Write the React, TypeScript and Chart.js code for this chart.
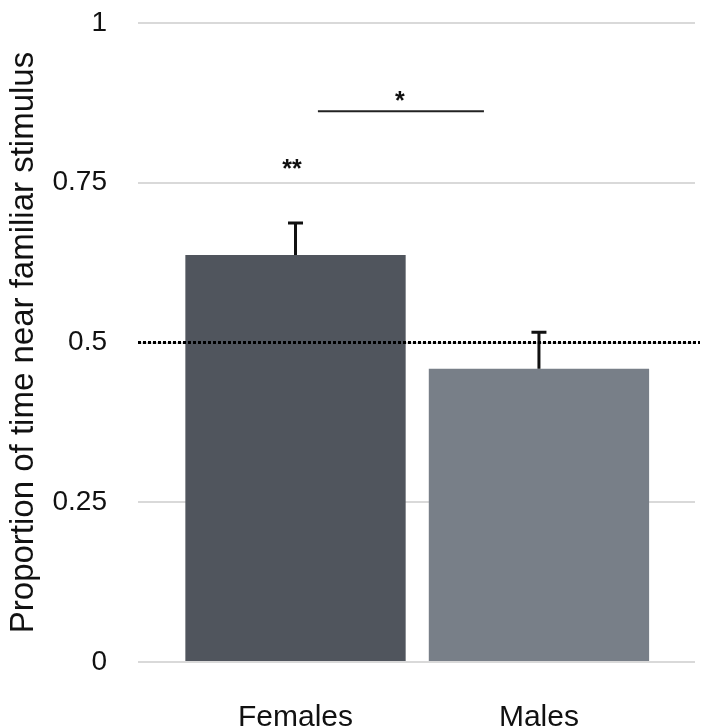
import { useEffect, useRef } from "react"
import { Chart, registerables } from "chart.js"

Chart.register(...registerables)

// Data
const categories = ["Females", "Males"]
const meanValues = [0.637, 0.459]
const upperErrors = [0.687, 0.516]
const barColors = ["#50555d", "#787f88"]
const yTickValues = [0, 0.25, 0.5, 0.75, 1]
const chanceLevel = 0.5

// significance marks, in data units (x = category index, y = proportion)
const sigLine = { x0: 0.092, x1: 0.774, y: 0.862 }
const sigMarks = [
  { text: "*", x: 0.429, y: 0.887 },
  { text: "**", x: -0.014, y: 0.781 },
]

const FONT = "'Liberation Sans', Arial, Helvetica, sans-serif"

const overlayPlugin = {
  id: "overlay",
  afterDatasetsDraw(chart: any) {
    const { ctx, chartArea } = chart
    const xs = chart.scales.x
    const ys = chart.scales.y

    ctx.save()
    // error bars (upper only)
    ctx.strokeStyle = "#111"
    ctx.lineWidth = 3
    upperErrors.forEach((u, i) => {
      const x = xs.getPixelForValue(i)
      const yTop = ys.getPixelForValue(u)
      const yBar = ys.getPixelForValue(meanValues[i])
      ctx.beginPath()
      ctx.moveTo(x, yBar)
      ctx.lineTo(x, yTop)
      ctx.moveTo(x - 7.5, yTop)
      ctx.lineTo(x + 7.5, yTop)
      ctx.stroke()
    })

    // dotted chance line
    const yc = ys.getPixelForValue(chanceLevel)
    ctx.strokeStyle = "#000"
    ctx.setLineDash([3, 2])
    ctx.lineWidth = 3
    ctx.beginPath()
    ctx.moveTo(chartArea.left, yc)
    ctx.lineTo(chartArea.right + 5, yc)
    ctx.stroke()
    ctx.setLineDash([])

    // significance bar
    ctx.strokeStyle = "#222"
    ctx.lineWidth = 2
    const ySig = ys.getPixelForValue(sigLine.y)
    ctx.beginPath()
    ctx.moveTo(xs.getPixelForValue(sigLine.x0), ySig)
    ctx.lineTo(xs.getPixelForValue(sigLine.x1), ySig)
    ctx.stroke()

    ctx.fillStyle = "#111"
    ctx.font = `bold 25px ${FONT}`
    ctx.textAlign = "center"
    ctx.textBaseline = "alphabetic"
    sigMarks.forEach((m) => {
      ctx.fillText(m.text, xs.getPixelForValue(m.x), ys.getPixelForValue(m.y) + 14)
    })
    ctx.restore()
  },
}

export default function App() {
  const chartRef = useRef<HTMLCanvasElement>(null)
  const chartInstance = useRef<Chart | null>(null)

  useEffect(() => {
    document.body.style.margin = "0"
    if (!chartRef.current) return
    if (chartInstance.current) chartInstance.current.destroy()
    const ctx = chartRef.current.getContext("2d")
    if (!ctx) return

    chartInstance.current = new Chart(ctx, {
      type: "bar",
      data: {
        datasets: [
          {
            data: meanValues.map((v, i) => ({ x: i, y: v })),
            backgroundColor: barColors,
            borderWidth: 0,
            barPercentage: 0.905,
            categoryPercentage: 1,
          },
        ],
      },
      options: {
        animation: false,
        responsive: true,
        maintainAspectRatio: false,
        layout: { padding: { top: 23, right: 17, left: 0, bottom: 0 } },
        plugins: {
          legend: { display: false },
          tooltip: { enabled: false },
        },
        scales: {
          x: {
            type: "linear",
            offset: false,
            min: -0.647,
            max: 1.641,
            grid: { display: false, offset: false },
            border: { display: false },
            afterBuildTicks: (scale: any) => {
              scale.ticks = categories.map((_, i) => ({ value: i }))
            },
            afterFit: (scale: any) => {
              scale.height = 65
            },
            ticks: {
              autoSkip: false,
              maxRotation: 0,
              padding: 30,
              color: "#111",
              font: { family: FONT, size: 30 },
              callback: (v: any) => categories[v] ?? "",
            },
          },
          y: {
            min: 0,
            max: 1,
            afterBuildTicks: (scale: any) => {
              scale.ticks = yTickValues.map((v) => ({ value: v }))
            },
            afterFit: (scale: any) => {
              scale.width = 138
              scale.paddingTop = 0
              scale.paddingBottom = 0
            },
            grid: { color: "#d9d9d9", lineWidth: 2, drawTicks: false },
            border: { display: false },
            ticks: {
              padding: 31,
              color: "#111",
              font: { family: FONT, size: 28 },
              callback: (v: any) => String(v),
            },
            title: {
              display: true,
              text: "Proportion of time near familiar stimulus",
              color: "#111",
              font: { family: FONT, size: 33 },
              padding: { top: 4, bottom: 4 },
            },
          },
        },
      },
      plugins: [overlayPlugin],
    })

    return () => {
      if (chartInstance.current) {
        chartInstance.current.destroy()
        chartInstance.current = null
      }
    }
  }, [])

  return (
    <div style={{ width: 712, height: 727, position: "relative", background: "#fff" }}>
      <canvas ref={chartRef}></canvas>
    </div>
  )
}
